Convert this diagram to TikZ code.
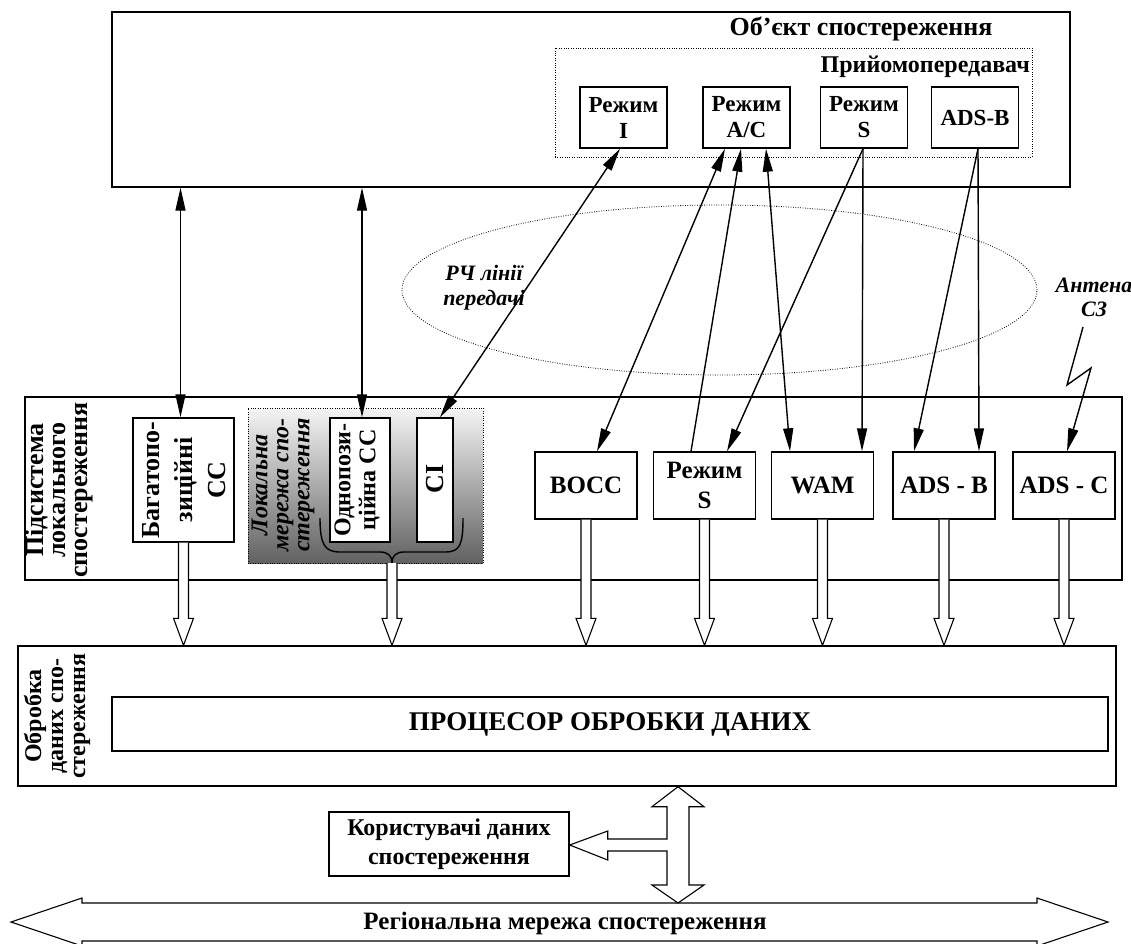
\documentclass[tikz,border=0pt]{standalone}
\usepackage{fontspec}
\setmainfont{Liberation Serif}
\usetikzlibrary{arrows.meta,calc,shapes.geometric}
\newcommand\myfs[2]{\fontsize{#1pt}{#2pt}\selectfont}
\newcommand\hollowdown[2]{\draw[hollow] ($(#1)+(-5,0)$) -- ($(#2)+(-5,-27)$) -- ($(#2)+(-10,-27)$) -- (#2) -- ($(#2)+(10,-27)$) -- ($(#2)+(5,-27)$) -- ($(#1)+(5,0)$);}
\begin{document}
\begin{tikzpicture}[x=1pt,y=-1pt,
  box/.style={draw, line width=1.4pt, fill=white, inner sep=0pt},
  dotbox/.style={draw, line width=0.8pt, dash pattern=on 0.8pt off 1.6pt, inner sep=0pt},
  modebox/.style={box, minimum width=87pt, minimum height=61pt, align=center, font=\bfseries\myfs{23}{26}},
  rowbox/.style={box, minimum width=102pt, minimum height=67pt, align=center, font=\bfseries\myfs{25}{30}},
  rot/.style={rotate=90, align=center, inner sep=0pt},
  conn/.style={line width=1.4pt},
  hollow/.style={draw, line width=1.1pt, fill=white, line join=miter},
  >={Triangle[length=23pt,width=10pt]}]
\useasboundingbox (0,0) rectangle (1131,943);

% ---------- observed object ----------
\node[box, minimum width=958pt, minimum height=175pt] (obj) at (591,99.5) {};
\node[font=\bfseries\myfs{26}{28}] (title) at (861,29) {Об’єкт спостереження};
\node[dotbox, minimum width=477pt, minimum height=109pt] (trxbox) at (793.5,102.5) {};
\node[font=\bfseries\myfs{24}{26}, anchor=east, inner sep=0pt] (trx) at (1030,67) {Прийомопередавач};
\node[modebox] (mI) at (623.5,117.5) {Режим\\I};
\node[modebox] (mAC) at (746.5,117.5) {Режим\\A/C};
\node[modebox] (mS) at (864,117.5) {Режим\\S};
\node[modebox] (mADS) at (975,117.5) {ADS-B};

% ---------- RF ellipse ----------
\node[dotbox, ellipse, minimum width=635pt, minimum height=170pt] (rf) at (719.5,290) {};
\node[font=\bfseries\itshape\myfs{22}{25}, align=center] (rftxt) at (484,288) {РЧ лінії\\передачі};
\node[font=\bfseries\itshape\myfs{22}{24}, align=center] (ant) at (1094,297) {Антена\\СЗ};

% ---------- local surveillance subsystem ----------
\node[box, minimum width=1097pt, minimum height=183pt] (sub) at (573.5,488.5) {};
\node[rot, font=\bfseries\myfs{26}{22}] (sublbl) at (59,490) {Підсистема\\локального\\спостереження};
\node[box, minimum width=101pt, minimum height=124pt] (bag) at (183.5,480) {};
\node[rot, font=\bfseries\myfs{26}{33}] (bagtxt) at (184,480) {Багатопо-\\зиційні\\СС};
\node[dotbox, minimum width=235pt, minimum height=155pt, top color=black!4, bottom color=black!62] (lan) at (365.5,485.5) {};
\node[rot, font=\bfseries\itshape\myfs{24}{21}] (lanlbl) at (283,485) {Локальна\\мережа спо-\\стереження};
\node[box, minimum width=60pt, minimum height=124pt] (odno) at (360,480) {};
\node[rot, font=\bfseries\myfs{24}{25}] (odnotxt) at (357,480) {Однопози-\\ційна СС};
\node[box, minimum width=36pt, minimum height=124pt] (ci) at (435,480) {};
\node[rot, font=\bfseries\myfs{26}{28}] (citxt) at (435,479) {CI};

\node[rowbox] (bocc) at (586,485.5) {BOCC};
\node[rowbox] (rS) at (704.5,485.5) {Режим\\S};
\node[rowbox] (wam) at (822.5,485.5) {WAM};
\node[rowbox] (adsb) at (944,485.5) {ADS - B};
\node[rowbox] (adsc) at (1064,485.5) {ADS - C};

% brace under the local network boxes
\coordinate (brtip) at (392,563);
\draw[line width=1.4pt] (320,518) .. controls (320,545) and (325,552) .. (340,552) -- (380,552) .. controls (388,552) and (392,556) .. (brtip) .. controls (392,556) and (396,552) .. (404,552) -- (445,552) .. controls (460,552) and (463,545) .. (463,518);

% ---------- processing ----------
\node[box, minimum width=1098pt, minimum height=140pt] (proc) at (567,716) {};
\node[rot, font=\bfseries\myfs{24}{22}] (proclbl) at (57,716) {Обробка\\даних спо-\\стереження};
\node[box, minimum width=996pt, minimum height=54pt, font=\bfseries\myfs{27}{30}] (cpu) at (610,724) {ПРОЦЕСОР ОБРОБКИ ДАНИХ};

\node[box, minimum width=240pt, minimum height=64pt, align=center, font=\bfseries\myfs{24}{29}] (users) at (449,844) {Користувачі даних\\спостереження};

% ---------- connectors ----------
\coordinate (bagin) at ($(bag.north)+(-3,0)$);
\draw[conn,<->] (bagin |- obj.south) -- (bagin);
\coordinate (odnoin) at ($(odno.north)+(2,0)$);
\draw[conn,<->] (odnoin |- obj.south) -- (odnoin);

\draw[conn,<->] ($(mI.south)+(-3.5,0)$) -- ($(ci.north)+(5,0)$);
\draw[conn,<->] ($(mAC.south)+(-21.5,0)$) -- ($(bocc.north)+(11,0)$);
\draw[conn,->] ($(rS.north)+(-13.5,0)$) -- ($(mAC.south)+(-5.5,0)$);
\draw[conn,<->] ($(mAC.south)+(19.5,0)$) -- ($(wam.north)+(-32.5,0)$);
\draw[conn,->] ($(mS.south)+(-1,0)$) -- ($(rS.north)+(22.5,0)$);
\draw[conn,->] ($(mS.south)+(-1,0)$) -- ($(wam.north)+(39.5,0)$);
\draw[conn,->] ($(mADS.south)+(3,0)$) -- ($(adsb.north)+(-30,0)$);
\draw[conn,->] ($(mADS.south)+(3,0)$) -- ($(adsb.north)+(35,0)$);

\coordinate (z1) at (1083,327);
\coordinate (z2) at (1067,385);
\coordinate (z3) at (1091,368);
\draw[conn,->,line join=miter] (z1) -- (z2) -- (z3) -- ($(adsc.north)+(3,0)$);

% hollow arrows into processing
\hollowdown{bag.south}{bag.south |- proc.north}
\hollowdown{brtip}{brtip |- proc.north}
\hollowdown{bocc.south}{bocc.south |- proc.north}
\hollowdown{rS.south}{rS.south |- proc.north}
\hollowdown{wam.south}{wam.south |- proc.north}
\hollowdown{adsb.south}{adsb.south |- proc.north}
\hollowdown{adsc.south}{adsc.south |- proc.north}

% regional network arrow
\coordinate (regL) at (11,922);
\coordinate (regR) at (1108,922);
\draw[hollow] (regL) -- ($(regL)+(71,-24)$) -- ($(regL)+(71,-19)$) -- ($(regR)+(-71,-19)$) -- ($(regR)+(-71,-24)$) -- (regR) -- ($(regR)+(-71,24)$) -- ($(regR)+(-71,19)$) -- ($(regL)+(71,19)$) -- ($(regL)+(71,24)$) -- cycle;
\node[font=\bfseries\myfs{25}{27}] (regtxt) at (565,923) {Регіональна мережа спостереження};

% double arrow with branch to users
\coordinate (vt) at ($(proc.south)+(111,0)$);
\coordinate (vb) at (vt |- regL);
\coordinate (vbt) at ($(vb)+(0,-19)$);
\coordinate (ue) at ($(users.east)+(0,1)$);
\draw[hollow] (vt) -- ($(vt)+(26,20)$) -- ($(vt)+(11,20)$) -- ($(vbt)+(11,-18)$) -- ($(vbt)+(26,-18)$) -- (vbt) -- ($(vbt)+(-26,-18)$) -- ($(vbt)+(-11,-18)$) -- ($(vt |- ue)+(-11,6)$) -- ($(ue)+(38,6)$) -- ($(ue)+(38,15)$) -- (ue) -- ($(ue)+(38,-14)$) -- ($(ue)+(38,-6)$) -- ($(vt |- ue)+(-11,-6)$) -- ($(vt)+(-11,20)$) -- ($(vt)+(-26,20)$) -- cycle;
\end{tikzpicture}
\end{document}
